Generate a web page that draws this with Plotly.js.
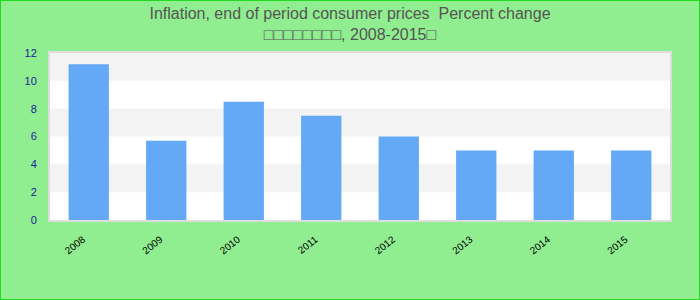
<!DOCTYPE html>
<html>
<head>
<meta charset="utf-8">
<script src="https://cdn.plot.ly/plotly-3.0.1.min.js"></script>
<style>
  html, body { margin: 0; padding: 0; background: #90EE90; }
  #wrap { width: 700px; height: 300px; box-sizing: border-box; border: 1px solid #1fdc1f; background: #90EE90; }
  #chart { width: 698px; height: 298px; }
</style>
</head>
<body>
<div id="wrap"><div id="chart"></div></div>
<script>
const years = ["2008", "2009", "2010", "2011", "2012", "2013", "2014", "2015"];
const inflation = [11.2, 5.7, 8.5, 7.5, 6.0, 5.0, 5.0, 5.0];
const yTicks = [0, 2, 4, 6, 8, 10, 12];
const titleLine1 = "Inflation, end of period consumer prices  Percent change";
const titleLine2 = "\u25A1\u25A1\u25A1\u25A1\u25A1\u25A1\u25A1\u25A1, 2008-2015\u25A1";

const bands = [];
for (let i = 1; i + 1 < yTicks.length; i += 2) {
  bands.push({
    type: "rect", xref: "paper", yref: "y", layer: "below",
    x0: 0, x1: 1, y0: yTicks[i], y1: yTicks[i + 1],
    fillcolor: "#f3f3f3", line: { width: 0 }
  });
}

const trace = {
  type: "bar",
  x: years,
  y: inflation,
  marker: { color: "#63a9f5" },
  hoverinfo: "x+y"
};

const layout = {
  width: 698, height: 298,
  margin: { l: 49, r: 29, t: 52, b: 79 },
  paper_bgcolor: "#90EE90",
  plot_bgcolor: "#ffffff",
  font: { family: "Liberation Sans, Arial, sans-serif" },
  title: {
    text: titleLine1 + "<br>" + titleLine2,
    font: { size: 16, color: "#555555", family: "Liberation Sans, Arial, sans-serif" },
    x: 0.5, xanchor: "center",
    yref: "container", y: 0.94, yanchor: "middle"
  },
  bargap: 0.48,
  showlegend: false,
  xaxis: {
    type: "category",
    tickangle: -38,
    tickfont: { size: 10, color: "#000000" },
    ticks: "outside", ticklen: 8, tickcolor: "rgba(0,0,0,0)",
    ticklabelshift: -6,
    showline: true, linecolor: "#dddddd", linewidth: 2, mirror: true,
    showgrid: false, zeroline: false
  },
  yaxis: {
    range: [0, 12],
    tickvals: yTicks,
    tickfont: { size: 11, color: "#1a1a9c" },
    ticks: "outside", ticklen: 9, tickcolor: "rgba(0,0,0,0)",
    showline: true, linecolor: "#dddddd", linewidth: 2, mirror: true,
    showgrid: false, zeroline: false
  },
  shapes: bands
};

Plotly.newPlot("chart", [trace], layout, { displayModeBar: false, staticPlot: true });
</script>
</body>
</html>
